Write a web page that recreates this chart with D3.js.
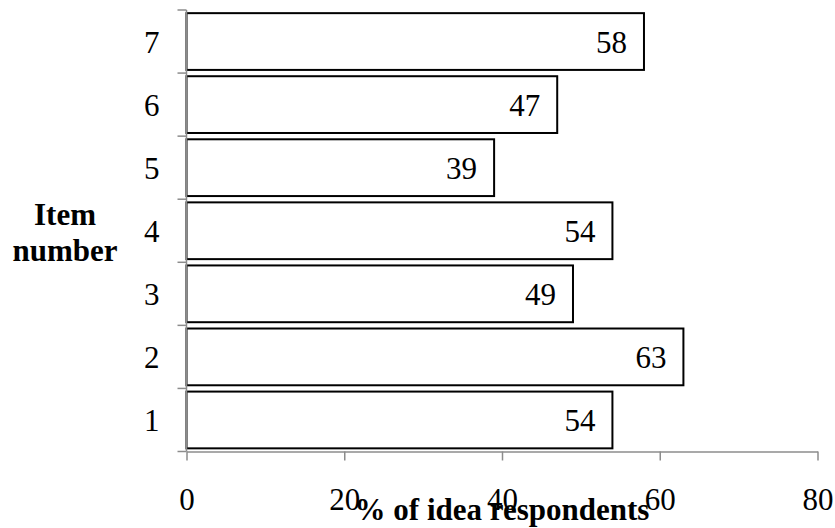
<!DOCTYPE html>
<html>
<head>
<meta charset="utf-8">
<script src="https://cdn.jsdelivr.net/npm/d3@7"></script>
<style>
  body { margin: 0; background: #fff; }
  text { font-family: "Liberation Serif", "Times New Roman", serif; fill: #000; }
</style>
</head>
<body>
<div id="chart"></div>
<script>
var items = ['1', '2', '3', '4', '5', '6', '7'];
var values = [54, 63, 49, 54, 39, 47, 58];
var xTicks = [0, 20, 40, 60, 80];

var WIDTH = 835, HEIGHT = 528;
var plotLeft = 186.5, plotRight = 817.5, plotTop = 10, plotBottom = 451.5;
var fontSize = 31;
var axisColor = '#8c8c8c';

var svg = d3.select('#chart')
  .append('svg')
  .attr('width', WIDTH)
  .attr('height', HEIGHT);

var x = d3.scaleLinear().domain([0, 80]).range([plotLeft, plotRight]);

// item 7 at the top
var y = d3.scaleBand()
  .domain(items.slice().reverse())
  .range([plotTop, plotBottom])
  .paddingInner(0.1)
  .paddingOuter(0.05);

var data = items.map(function(d, i) { return { item: d, value: values[i] }; });

// bars
svg.selectAll('rect.bar')
  .data(data)
  .enter()
  .append('rect')
  .attr('class', 'bar')
  .attr('x', x(0))
  .attr('y', function(d) { return y(d.item); })
  .attr('width', function(d) { return x(d.value) - x(0); })
  .attr('height', y.bandwidth())
  .attr('fill', '#fff')
  .attr('stroke', '#000')
  .attr('stroke-width', 2);

// value labels inside the bar end
svg.selectAll('text.val')
  .data(data)
  .enter()
  .append('text')
  .attr('class', 'val')
  .attr('x', function(d) { return x(d.value) - 17; })
  .attr('y', function(d) { return y(d.item) + y.bandwidth() / 2 + 11; })
  .attr('text-anchor', 'end')
  .attr('font-size', fontSize)
  .text(function(d) { return d.value; });

// x axis
var xAxis = svg.append('g')
  .attr('transform', 'translate(0,' + plotBottom + ')')
  .call(d3.axisBottom(x).tickValues(xTicks).tickSize(9).tickSizeOuter(0));
xAxis.select('.domain').attr('stroke', axisColor).attr('stroke-width', 1.5);
xAxis.selectAll('.tick line').attr('stroke', axisColor).attr('stroke-width', 1.5);
xAxis.selectAll('.tick text')
  .attr('font-size', fontSize)
  .attr('font-family', '"Liberation Serif", "Times New Roman", serif')
  .attr('dy', 0)
  .attr('y', 58)
  .attr('fill', '#000');

// y axis: line plus ticks at band boundaries
svg.append('line')
  .attr('x1', x(0)).attr('x2', x(0))
  .attr('y1', plotTop).attr('y2', plotBottom)
  .attr('stroke', axisColor).attr('stroke-width', 1.5);

var bounds = d3.range(items.length + 1).map(function(i) { return plotTop + i * y.step(); });
svg.selectAll('line.ytick')
  .data(bounds)
  .enter()
  .append('line')
  .attr('class', 'ytick')
  .attr('x1', x(0) - 9).attr('x2', x(0))
  .attr('y1', function(d) { return d; })
  .attr('y2', function(d) { return d; })
  .attr('stroke', axisColor).attr('stroke-width', 1.5);

svg.selectAll('text.ylab')
  .data(items)
  .enter()
  .append('text')
  .attr('class', 'ylab')
  .attr('x', x(0) - 27)
  .attr('y', function(d) { return y(d) + y.bandwidth() / 2 + 11; })
  .attr('text-anchor', 'end')
  .attr('font-size', fontSize)
  .text(function(d) { return d; });

// axis titles
var yTitle = svg.append('text')
  .attr('text-anchor', 'middle')
  .attr('font-size', fontSize)
  .attr('font-weight', 'bold');
yTitle.append('tspan').attr('x', 65).attr('y', 225).text('Item');
yTitle.append('tspan').attr('x', 65).attr('y', 261).text('number');

svg.append('text')
  .attr('x', x(40))
  .attr('y', 520)
  .attr('text-anchor', 'middle')
  .attr('font-size', fontSize)
  .attr('font-weight', 'bold')
  .text('% of idea respondents');
</script>
</body>
</html>
